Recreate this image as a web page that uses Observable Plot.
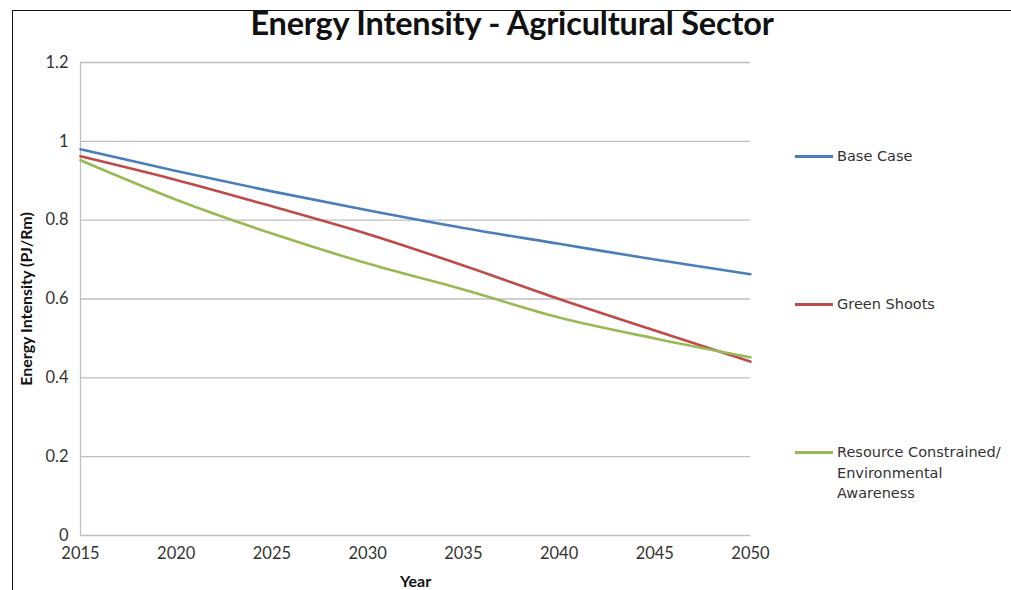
<!DOCTYPE html>
<html><head><meta charset="utf-8">
<script src="https://cdn.jsdelivr.net/npm/d3@7"></script>
<script src="https://cdn.jsdelivr.net/npm/@observablehq/plot@0.6"></script>
<style>
body{margin:0;background:#fff;font-family:Lato,"Open Sans",sans-serif;}
#wrap{position:relative;width:1011px;height:590px;overflow:hidden;background:#fff}
#frame{position:absolute;left:12px;top:10px;width:1020px;height:620px;border:1.5px solid #111;box-sizing:border-box;pointer-events:none}
#title{position:absolute;top:3px;left:0;width:1024px;text-align:center;font-weight:700;font-size:32.5px;line-height:40px;color:#111;letter-spacing:-0.2px}
#chart{position:absolute;left:0;top:0}
.leg{position:absolute;left:795px;font-family:"DejaVu Sans",sans-serif;font-size:14.5px;color:#333;line-height:20.5px}
.leg .sw{position:absolute;left:0;top:9px;width:38px;height:3px}
.leg .tx{position:absolute;left:42px;top:0;white-space:nowrap}
</style></head>
<body>
<div id="wrap">
  <div id="chart"></div>
  <div id="title"></div>
  <div id="legend"></div>
  <div id="frame"></div>
</div>
<script>
const title = "Energy Intensity - Agricultural Sector";
const years = [2015, 2020, 2025, 2030, 2035, 2040, 2045, 2050];
const baseCase = [0.98, 0.925, 0.873, 0.825, 0.78, 0.74, 0.70, 0.663];
const greenShoots = [0.962, 0.902, 0.835, 0.765, 0.685, 0.60, 0.52, 0.441];
const resourceConstrained = [0.952, 0.852, 0.766, 0.69, 0.624, 0.553, 0.50, 0.452];
const seriesNames = ["Base Case", "Green Shoots", "Resource Constrained/\nEnvironmental\nAwareness"];
const seriesColors = ["#4a7ebb", "#be4b48", "#98b954"];
const yTicks = [0, 0.2, 0.4, 0.6, 0.8, 1, 1.2];
const legendTops = [146, 294, 442];

const seriesValues = [baseCase, greenShoots, resourceConstrained];
const data = [];
seriesNames.forEach((s, i) => years.forEach((yr, j) => data.push({series: s, year: yr, value: seriesValues[i][j]})));

document.getElementById("title").textContent = title;

const chart = Plot.plot({
  width: 1011,
  height: 590,
  marginLeft: 80,
  marginRight: 261,
  marginTop: 62,
  marginBottom: 55,
  style: {fontFamily: "Lato, 'Open Sans', sans-serif", background: "transparent", color: "#333"},
  x: {domain: [2015, 2050]},
  y: {domain: [0, 1.2]},
  color: {domain: seriesNames, range: seriesColors},
  marks: [
    Plot.gridY(yTicks, {stroke: "#bfbfbf", strokeOpacity: 1, strokeWidth: 1.3}),
    Plot.ruleX([2015], {stroke: "#bfbfbf", strokeWidth: 1.3}),
    Plot.axisY({ticks: yTicks, tickSize: 0, tickPadding: 12, tickFormat: d => String(+d.toFixed(1)), fontSize: 16.5, label: "Energy Intensity (PJ/Rm)", labelAnchor: "center", labelArrow: "none", labelOffset: 60}),
    Plot.axisX({ticks: years, tickSize: 0, tickPadding: 12, tickFormat: "d", fontSize: 16.5, label: "Year", labelAnchor: "center", labelArrow: "none", labelOffset: 51}),
    Plot.line(data, {x: "year", y: "value", z: "series", stroke: "series", strokeWidth: 2.6, curve: "monotone-x"})
  ]
});
chart.querySelectorAll("[aria-label='y-axis label'] text, [aria-label='x-axis label'] text").forEach(t => {
  t.setAttribute("font-weight", "700"); t.setAttribute("font-size", "16"); t.setAttribute("fill", "#111");
});
document.getElementById("chart").appendChild(chart);

const leg = document.getElementById("legend");
seriesNames.forEach((s, i) => {
  const d = document.createElement("div");
  d.className = "leg";
  d.style.top = legendTops[i] + "px";
  const sw = document.createElement("div");
  sw.className = "sw"; sw.style.background = seriesColors[i];
  const tx = document.createElement("div");
  tx.className = "tx";
  tx.innerHTML = s.split("\n").map(t => t.replace(/&/g, "&amp;")).join("<br>");
  d.appendChild(sw); d.appendChild(tx);
  leg.appendChild(d);
});
</script>
</body></html>
